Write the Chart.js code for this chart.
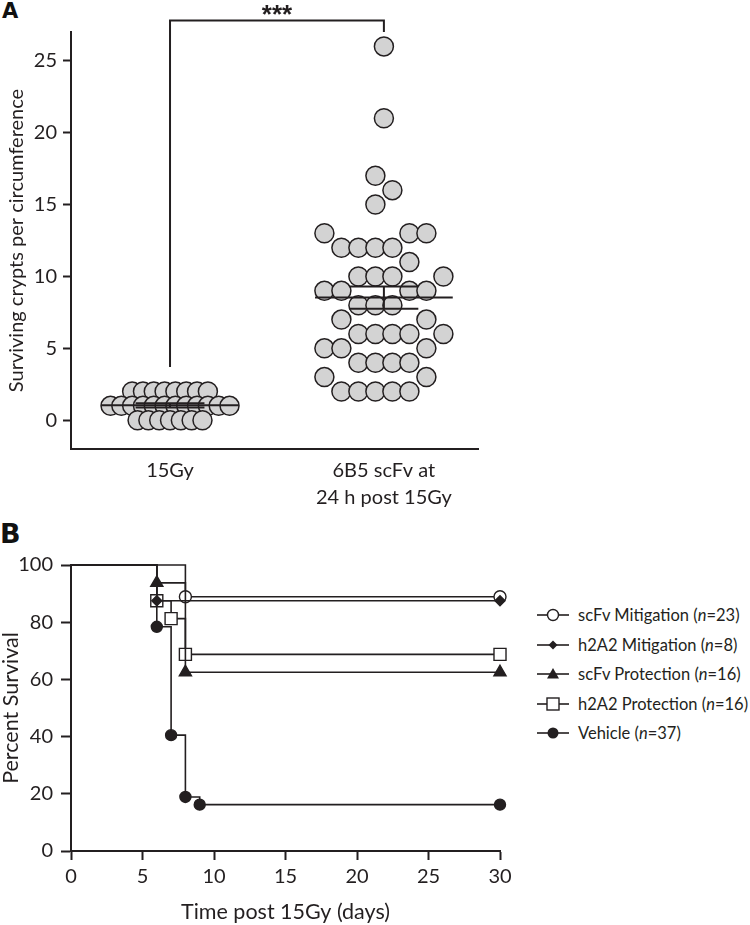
<!DOCTYPE html>
<html>
<head>
<meta charset="utf-8">
<script src="https://cdn.jsdelivr.net/npm/chart.js@4.4.1/dist/chart.umd.min.js"></script>
<style>
  html, body { margin: 0; padding: 0; background: #fff; }
  body { width: 750px; height: 925px; position: relative; overflow: hidden; font-family: Lato, 'Open Sans', sans-serif; color: #231f20; }
  .plabel { position: absolute; font-family: 'DejaVu Sans', 'Liberation Sans', sans-serif; font-weight: bold; line-height: 1; color: #111; }
  #wrapA { position: absolute; left: 0; top: 0; width: 490px; height: 530px; }
  #wrapB { position: absolute; left: 0; top: 500px; width: 520px; height: 425px; }
  .lg { position: absolute; left: 537px; height: 22px; display: flex; align-items: center; font-size: 16.5px; white-space: nowrap; }
  .lg svg { width: 32px; height: 16px; margin-right: 9px; flex: none; }
</style>
</head>
<body>
<div class="plabel" style="left:2px;top:1px;font-size:21px;">A</div>
<div class="plabel" style="left:0px;top:520px;font-size:27px;">B</div>
<div id="wrapA"><canvas id="chartA" width="490" height="530"></canvas></div>
<div id="wrapB"><canvas id="chartB" width="520" height="425"></canvas></div>
<div id="legend"></div>
<script>
// ---------------- DATA (panel A) ----------------
const groupLabels = [['15Gy'], ['6B5 scFv at', '24 h post 15Gy']];
const crypts15Gy = [2, 2, 2, 2, 2, 2, 2, 2,
                    1, 1, 1, 1, 1, 1, 1, 1, 1, 1, 1, 1,
                    0, 0, 0, 0, 0, 0, 0];
const cryptsScFv = [26, 21, 17, 16, 15,
                    13, 13, 13, 12, 12, 12, 12, 11,
                    10, 10, 10, 10, 9, 9, 9, 9, 8, 8, 8,
                    7, 7, 6, 6, 6, 6, 6, 5, 5, 5,
                    4, 4, 4, 4, 3, 3, 2, 2, 2, 2, 2];
const cryptTicks = [0, 5, 10, 15, 20, 25];
const cryptRange = [-2, 27];
const sigLabel = '***';
const sigBracketTop = 27.8;
const sigLegEnds = [3.7, 27.0];

// ---------------- DATA (panel B) ----------------
const survNames = ['scFv Mitigation', 'h2A2 Mitigation', 'scFv Protection', 'h2A2 Protection', 'Vehicle'];
const survN = [23, 8, 16, 16, 37];
const scFvMitDays = [0, 8, 30];
const scFvMitPct  = [100, 88.9, 88.9];
const h2A2MitDays = [0, 6, 30];
const h2A2MitPct  = [100, 87.5, 87.5];
const scFvProDays = [0, 6, 8, 30];
const scFvProPct  = [100, 93.75, 62.5, 62.5];
const h2A2ProDays = [0, 6, 7, 8, 30];
const h2A2ProPct  = [100, 87.5, 81.25, 68.75, 68.75];
const vehicleDays = [0, 6, 7, 8, 9, 30];
const vehiclePct  = [100, 78.4, 40.5, 18.9, 16.2, 16.2];
const dayTicks = [0, 5, 10, 15, 20, 25, 30];
const pctTicks = [0, 20, 40, 60, 80, 100];

// ---------------- STYLE / LAYOUT ----------------
const INK = '#231f20';
const FONT = "Lato, 'Open Sans', sans-serif";
const A = { w: 490, h: 530, left: 71, top: 32, right: 478, bottom: 449, xmin: -0.463, xmax: 1.44 };
const B = { w: 520, h: 425, left: 71, top: 65, right: 500, bottom: 351 };
const DOT_R = 9.5;
const COL_STEP = 17;
const COLS = 8;
const MEAN_HALF = 0.322, SEM_HALF = 0.161;

const pxPerX = (A.right - A.left) / (A.xmax - A.xmin);
const pxPerY = (A.bottom - A.top) / (cryptRange[1] - cryptRange[0]);

function swarmOffsets(values) {
  const collide = (2 * DOT_R + 1) / pxPerY;
  const rows = new Map();
  values.forEach((v, i) => { if (!rows.has(v)) rows.set(v, []); rows.get(v).push(i); });
  const keys = [...rows.keys()].sort((a, b) => a - b);
  const colX = k => (k - (COLS - 1) / 2) * COL_STEP;
  const pref = [...Array(COLS).keys()].sort((a, b) => Math.abs(colX(a)) - Math.abs(colX(b)) || a - b);
  const used = new Map();
  const out = new Array(values.length).fill(0);
  let ok = true;
  for (const v of keys) {
    const idx = rows.get(v);
    const near = keys.filter(k => k !== v && Math.abs(k - v) < collide);
    if (near.length === 0) {
      idx.forEach((i, j) => { out[i] = (j - (idx.length - 1) / 2) * COL_STEP; });
      continue;
    }
    const blocked = new Set();
    near.forEach(k => (used.get(k) || []).forEach(c => blocked.add(c)));
    const free = pref.filter(c => !blocked.has(c));
    if (free.length < idx.length) { ok = false; break; }
    const chosen = free.slice(0, idx.length).sort((a, b) => a - b);
    used.set(v, chosen);
    idx.forEach((i, j) => { out[i] = colX(chosen[j]); });
  }
  if (!ok) {
    const maxN = Math.max(...keys.map(k => rows.get(k).length));
    const s = maxN > 1 ? Math.min(COL_STEP, (COLS - 1) * COL_STEP / (maxN - 1)) : 0;
    keys.forEach(v => { const idx = rows.get(v); idx.forEach((i, j) => { out[i] = (j - (idx.length - 1) / 2) * s; }); });
  }
  return out;
}

function stats(arr) {
  const n = arr.length;
  const m = arr.reduce((a, b) => a + b, 0) / n;
  const sd = Math.sqrt(arr.reduce((a, b) => a + (b - m) * (b - m), 0) / (n - 1));
  return { m, sem: sd / Math.sqrt(n) };
}

function dotData(values, center) {
  const off = swarmOffsets(values);
  return values.map((v, i) => ({ x: center + off[i] / pxPerX, y: v }));
}

function summaryLines(values, center) {
  const { m, sem } = stats(values);
  const base = { type: 'line', pointRadius: 0, borderColor: INK, borderWidth: 2, order: 0, clip: false, fill: false };
  return [
    Object.assign({ data: [{ x: center - MEAN_HALF, y: m }, { x: center + MEAN_HALF, y: m }] }, base),
    Object.assign({ data: [{ x: center - SEM_HALF, y: m + sem }, { x: center + SEM_HALF, y: m + sem }] }, base),
    Object.assign({ data: [{ x: center - SEM_HALF, y: m - sem }, { x: center + SEM_HALF, y: m - sem }] }, base),
    Object.assign({ data: [{ x: center, y: m - sem }, { x: center, y: m + sem }] }, base)
  ];
}

const dotStyle = { type: 'scatter', pointRadius: DOT_R, pointHoverRadius: DOT_R, pointBackgroundColor: '#d3d3d3',
  pointBorderColor: INK, pointBorderWidth: 1.5, order: 1, clip: false, showLine: false };

const bracketPlugin = {
  id: 'bracket',
  afterDatasetsDraw(chart) {
    const { ctx, scales: { x, y } } = chart;
    const x0 = x.getPixelForValue(0), x1 = x.getPixelForValue(1);
    const yt = y.getPixelForValue(sigBracketTop);
    ctx.save();
    ctx.strokeStyle = INK; ctx.lineWidth = 2; ctx.lineCap = 'butt';
    ctx.beginPath();
    ctx.moveTo(x0, y.getPixelForValue(sigLegEnds[0]));
    ctx.lineTo(x0, yt);
    ctx.lineTo(x1, yt);
    ctx.lineTo(x1, y.getPixelForValue(sigLegEnds[1]));
    ctx.stroke();
    ctx.fillStyle = INK;
    ctx.font = "bold 26px 'Liberation Sans', 'DejaVu Sans', sans-serif";
    ctx.textAlign = 'center'; ctx.textBaseline = 'alphabetic';
    ctx.fillText(sigLabel, (x0 + x1) / 2, yt + 3);
    ctx.restore();
  }
};

new Chart(document.getElementById('chartA'), {
  type: 'scatter',
  data: {
    datasets: [
      ...summaryLines(crypts15Gy, 0),
      ...summaryLines(cryptsScFv, 1),
      Object.assign({ data: dotData(crypts15Gy, 0) }, dotStyle),
      Object.assign({ data: dotData(cryptsScFv, 1) }, dotStyle)
    ]
  },
  options: {
    responsive: false, animation: false, devicePixelRatio: 1,
    layout: { padding: { left: 0, top: A.top, right: A.w - A.right, bottom: 0 } },
    plugins: { legend: { display: false }, tooltip: { enabled: false } },
    events: [],
    scales: {
      x: {
        type: 'linear', min: A.xmin, max: A.xmax,
        afterFit: s => { s.height = A.h - A.bottom; },
        afterBuildTicks: s => { s.ticks = groupLabels.map((_, i) => ({ value: i })); },
        grid: { display: true, drawOnChartArea: false, drawTicks: false },
        border: { display: true, color: INK, width: 2 },
        ticks: { autoSkip: false, maxRotation: 0, padding: 8, color: INK,
          font: { family: FONT, size: 20, lineHeight: 1.35 },
          callback: (v, i) => groupLabels[i] }
      },
      y: {
        type: 'linear', min: cryptRange[0], max: cryptRange[1],
        afterFit: s => { s.width = A.left; },
        afterBuildTicks: s => { s.ticks = cryptTicks.map(v => ({ value: v })); },
        grid: { drawOnChartArea: false, drawTicks: true, tickLength: 8, tickColor: INK, tickWidth: 2 },
        border: { display: true, color: INK, width: 2 },
        ticks: { padding: 6, color: INK, font: { family: FONT, size: 20 } },
        title: { display: true, text: 'Surviving crypts per circumference', color: INK,
          font: { family: FONT, size: 20, lineHeight: 1.2 }, padding: { top: 5, bottom: 0 } }
      }
    }
  },
  plugins: [bracketPlugin]
});

// ---------------- PANEL B ----------------
function pts(days, pct) { return days.map((d, i) => ({ x: d, y: pct[i] })); }
function radii(n, r) { return Array.from({ length: n }, (_, i) => (i === 0 ? 0 : r)); }
const lineBase = { type: 'line', stepped: 'before', borderColor: INK, borderWidth: 1.6, fill: false, clip: false,
  pointBorderColor: INK, pointBorderWidth: 1.4 };
const survSets = [
  { days: scFvMitDays, pct: scFvMitPct, style: 'circle', r: 6, bg: '#ffffff', order: 3 },
  { days: h2A2MitDays, pct: h2A2MitPct, style: 'rectRot', r: 5, bg: INK, order: 0 },
  { days: scFvProDays, pct: scFvProPct, style: 'triangle', r: 7, bg: INK, order: 2 },
  { days: h2A2ProDays, pct: h2A2ProPct, style: 'rect', r: 8.5, bg: '#ffffff', order: 4 },
  { days: vehicleDays, pct: vehiclePct, style: 'circle', r: 5.5, bg: INK, order: 1 }
];

new Chart(document.getElementById('chartB'), {
  type: 'line',
  data: {
    datasets: survSets.map((s, k) => Object.assign({}, lineBase, {
      label: survNames[k],
      data: pts(s.days, s.pct),
      pointStyle: s.style,
      pointRadius: radii(s.days.length, s.r),
      pointHoverRadius: radii(s.days.length, s.r),
      pointBackgroundColor: s.bg,
      order: s.order
    }))
  },
  options: {
    responsive: false, animation: false, devicePixelRatio: 1,
    layout: { padding: { left: 0, top: B.top, right: B.w - B.right, bottom: 0 } },
    plugins: { legend: { display: false }, tooltip: { enabled: false } },
    events: [],
    scales: {
      x: {
        type: 'linear', min: dayTicks[0], max: dayTicks[dayTicks.length - 1],
        afterFit: s => { s.height = B.h - B.bottom; },
        afterBuildTicks: s => { s.ticks = dayTicks.map(v => ({ value: v })); },
        grid: { drawOnChartArea: false, drawTicks: true, tickLength: 9, tickColor: INK, tickWidth: 2 },
        border: { display: true, color: INK, width: 2 },
        ticks: { padding: 5, color: INK, maxRotation: 0, autoSkip: false, font: { family: FONT, size: 20 } },
        title: { display: true, text: 'Time post 15Gy (days)', color: INK,
          font: { family: FONT, size: 21.5, lineHeight: 1.2 }, padding: { top: 0, bottom: 0 } }
      },
      y: {
        type: 'linear', min: pctTicks[0], max: pctTicks[pctTicks.length - 1],
        afterFit: s => { s.width = B.left; },
        afterBuildTicks: s => { s.ticks = pctTicks.map(v => ({ value: v })); },
        grid: { drawOnChartArea: false, drawTicks: true, tickLength: 10, tickColor: INK, tickWidth: 2 },
        border: { display: true, color: INK, width: 2 },
        ticks: { padding: 8, color: INK, font: { family: FONT, size: 20 } },
        title: { display: true, text: 'Percent Survival', color: INK,
          font: { family: FONT, size: 21.5, lineHeight: 1.0 }, padding: { top: 0, bottom: 0 } }
      }
    }
  }
});

// ---------------- LEGEND (HTML) ----------------
const legendSymbols = [
  '<circle cx="16" cy="8" r="5.5" fill="#fff" stroke="' + INK + '" stroke-width="1.4"/>',
  '<polygon points="16,3.5 20.5,8 16,12.5 11.5,8" fill="' + INK + '"/>',
  '<polygon points="16,2 22,12.5 10,12.5" fill="' + INK + '"/>',
  '<rect x="10" y="2" width="12" height="12" fill="#fff" stroke="' + INK + '" stroke-width="1.4"/>',
  '<circle cx="16" cy="8" r="5.5" fill="' + INK + '"/>'
];
const legendTops = [615, 644.5, 674, 703.5, 733];
const lg = document.getElementById('legend');
survNames.forEach((name, k) => {
  const d = document.createElement('div');
  d.className = 'lg';
  d.style.top = (legendTops[k] - 11) + 'px';
  d.innerHTML = '<svg viewBox="0 0 32 16"><line x1="0" y1="8" x2="32" y2="8" stroke="' + INK + '" stroke-width="1.6"/>' +
    legendSymbols[k] + '</svg><span>' + name + ' (<i>n</i>=' + survN[k] + ')</span>';
  lg.appendChild(d);
});
</script>
</body>
</html>
